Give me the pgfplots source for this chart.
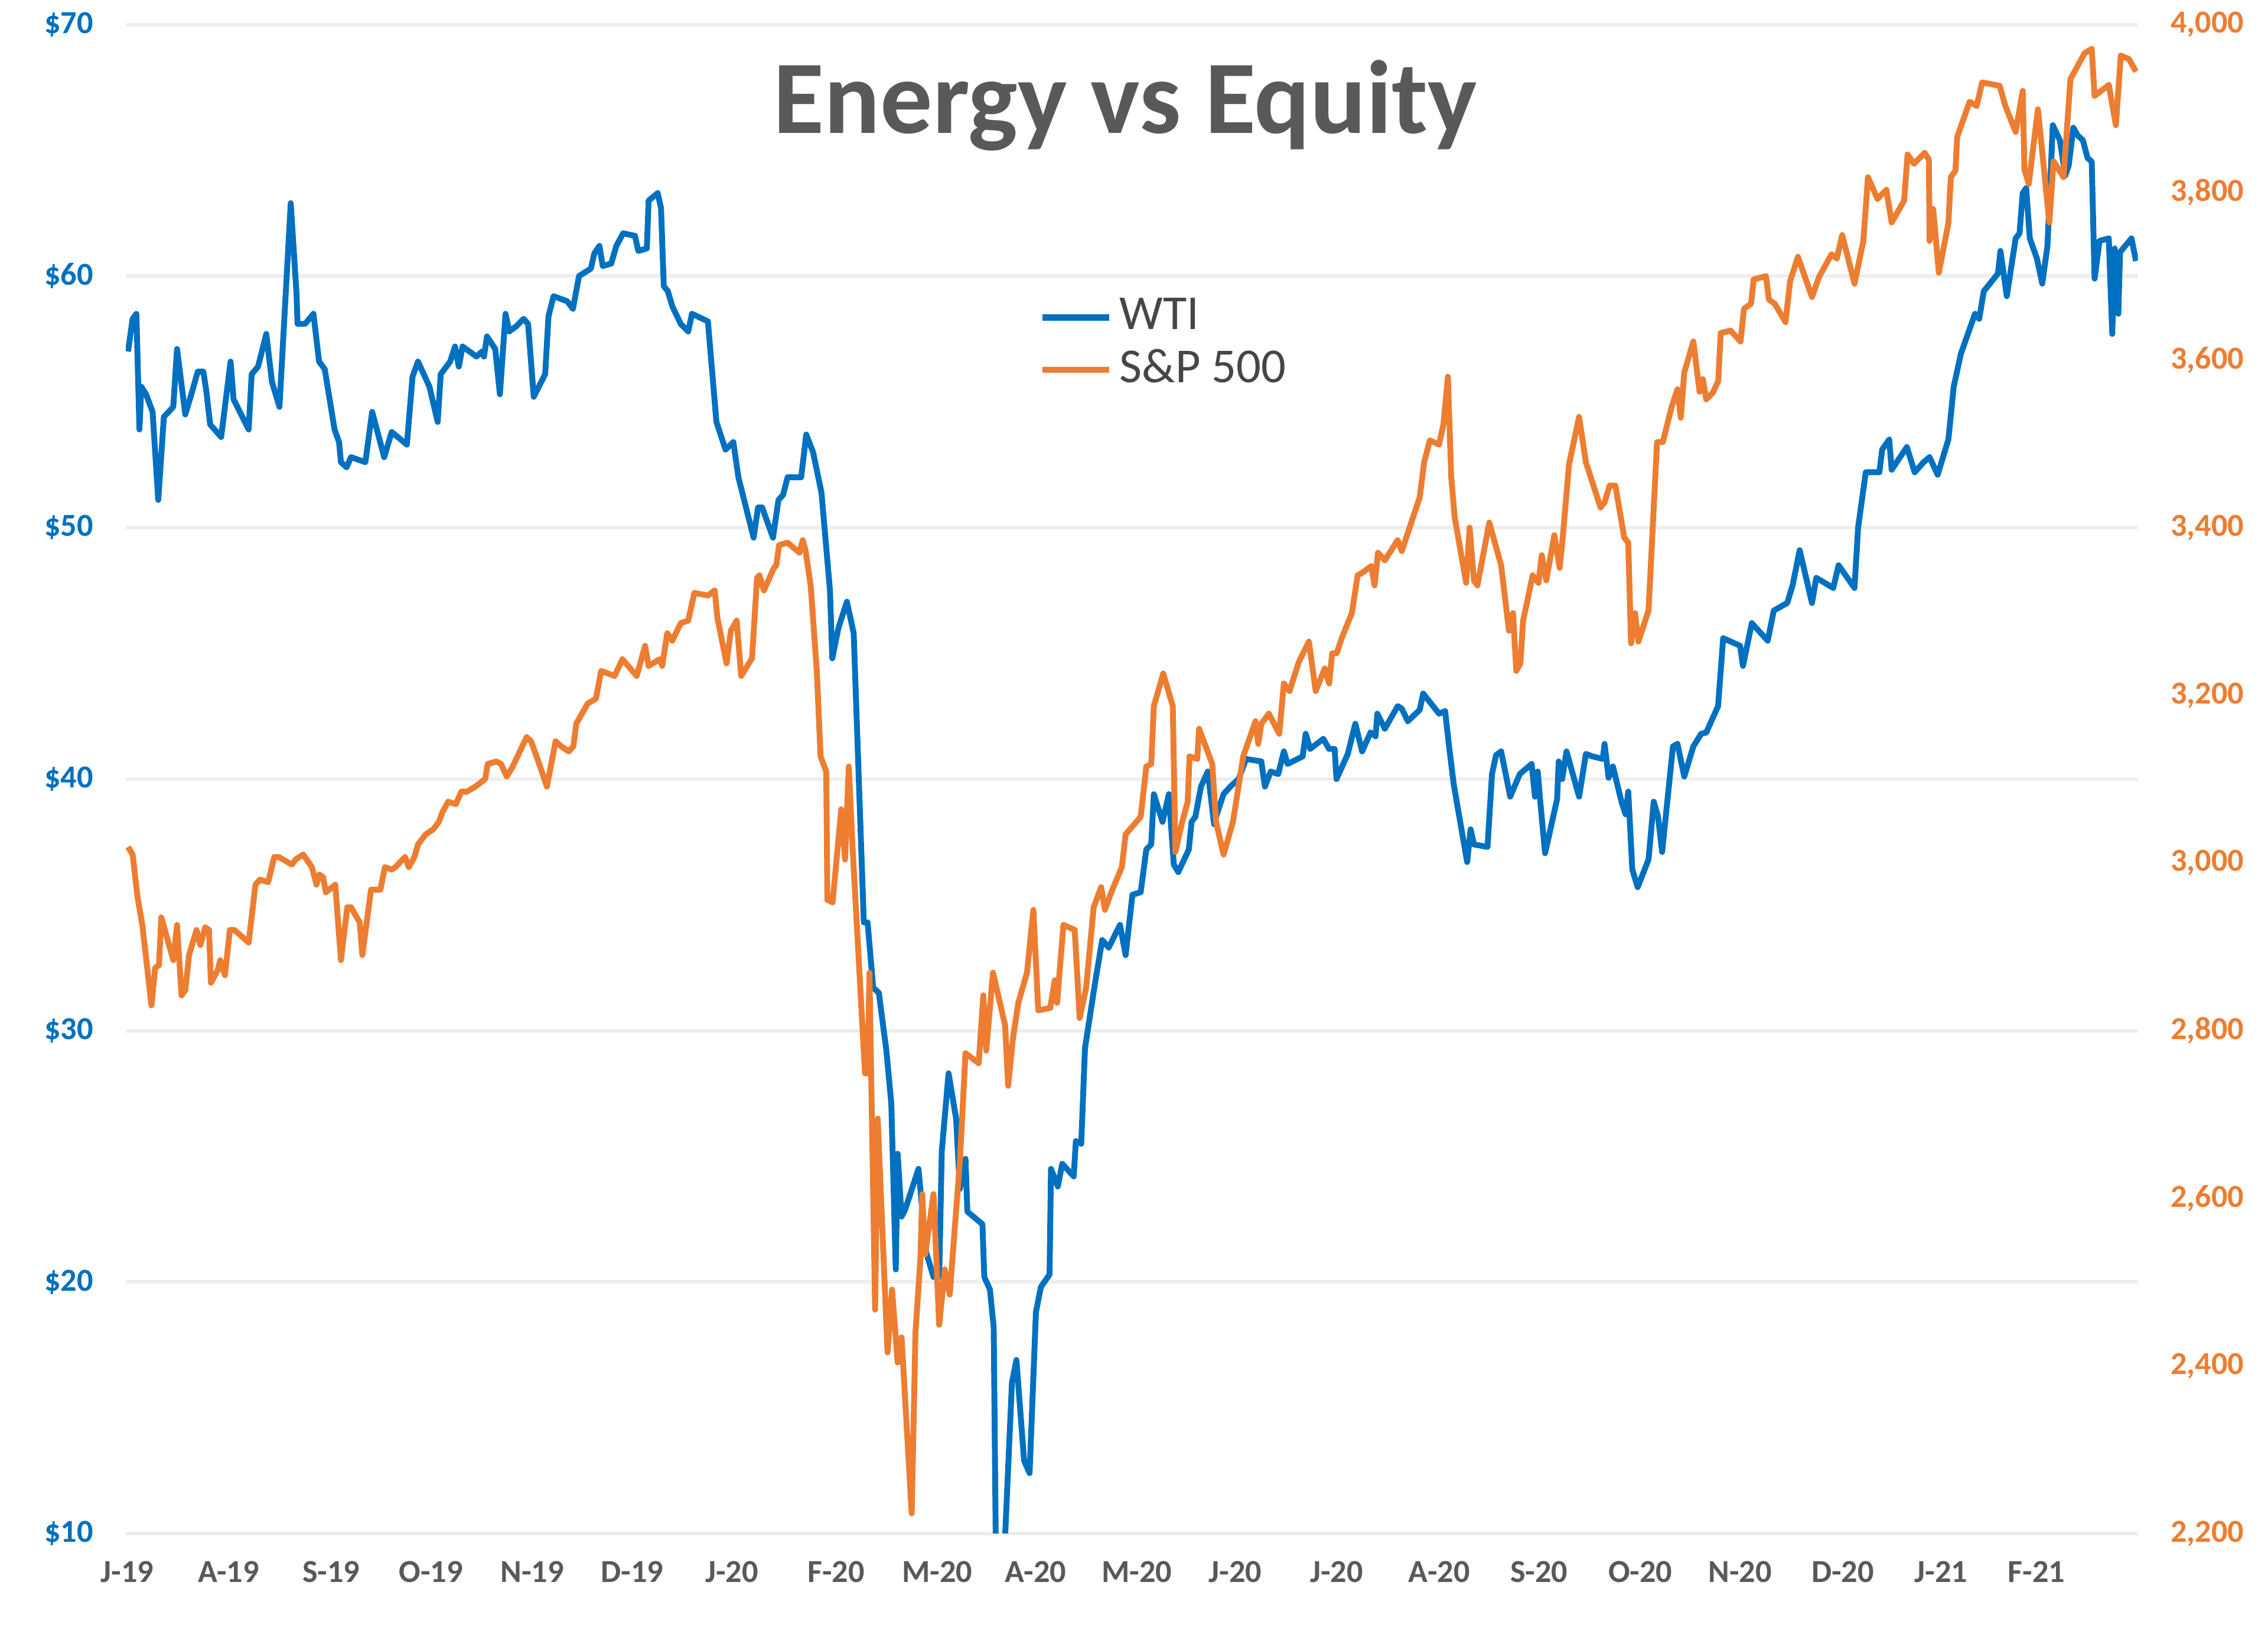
\documentclass[border=0pt]{standalone}
\usepackage{pgfplots}
\pgfplotsset{compat=1.18}
\usepackage{pgfplotstable}
\usepackage{fontspec}
\setmainfont{Carlito}
\definecolor{wti}{HTML}{0070C0}
\definecolor{spx}{HTML}{ED7D31}
\definecolor{txt}{HTML}{595959}
\definecolor{leg}{HTML}{464646}
\definecolor{grd}{HTML}{EEEEEE}

\pgfplotstableread{
x y
88.5 57.0
91.7 58.3
94.3 58.5
96.4 53.9
97.7 55.6
101 55.3
105.5 54.6
109.4 51.1
113.3 54.4
119.8 54.8
122.4 57.1
128.1 54.5
132.8 55.4
136.7 56.2
140.6 56.2
142.7 55.4
145.3 54.1
152.9 53.6
159.4 56.6
161.5 55.1
171.9 53.9
174 56.1
178.4 56.4
184.1 57.7
188 55.8
193.2 54.8
201 62.9
205 59.3
205.7 58.1
210.9 58.1
216.7 58.5
220.6 56.6
224.5 56.3
231.3 53.9
234.4 53.4
235.7 52.6
239.6 52.4
242.7 52.8
252.6 52.6
257.3 54.6
265.6 52.8
270.8 53.8
281.3 53.3
285.2 56.0
289 56.6
296.9 55.6
302.6 54.2
304.7 56.1
311.2 56.6
314.6 57.2
317.2 56.4
319.8 57.2
329.4 56.8
333.3 57.0
334.6 56.8
336.7 57.6
342.4 57.1
345.6 55.3
349.5 58.5
352.1 57.8
356.8 58.0
362 58.3
365.1 58.1
369 55.2
376.9 56.1
379.2 58.4
382.7 59.2
392.1 59.0
396.1 58.7
400.3 60.0
408.5 60.3
410.9 60.9
414.4 61.2
416.7 60.4
422.6 60.5
426.1 61.2
430.8 61.7
439 61.6
441.3 61.0
447.2 61.1
448.4 63.0
454.7 63.3
457 62.7
458.9 59.6
461.7 59.4
464.8 58.8
470.6 58.1
475.8 57.8
478.4 58.5
489.4 58.2
495.3 54.2
501.6 53.1
507 53.4
510.5 52.0
521 49.6
524.1 50.8
526.9 50.8
534.4 49.6
538.2 51.1
541.4 51.3
544.5 52.0
553.9 52.0
557.4 53.7
562.1 53.0
567.9 51.4
573.8 47.5
575.4 44.8
579.6 46.0
585.5 47.05
590.2 45.8
597.2 34.3
599.8 34.3
603.7 31.7
607.6 31.5
612.8 29.2
616.2 27.1
619.3 20.5
620.6 25.1
623.3 22.6
625.9 22.9
635 24.5
636.3 23.7
640.2 21.2
645.4 20.2
649.3 20.2
651.1 25.2
655.8 28.3
661 26.5
663.6 23.7
667.5 24.9
668.8 22.8
679.2 22.3
680.5 20.2
684.4 19.7
687 18.2
688.4 9.8
691 -10
694.9 9.9
699.6 16.0
702.7 16.9
708 12.9
711.8 12.4
716.2 18.8
719.6 19.8
725.6 20.3
726.6 24.5
731.3 23.8
734.4 24.7
742.3 24.2
743.8 25.6
747.5 25.5
750.1 29.3
756.8 31.8
762 33.6
766.5 33.3
774.3 34.2
778.2 33.0
782.9 35.4
788.6 35.5
792.5 37.2
795.9 37.4
797.7 39.4
803.7 38.3
808.1 39.4
811.5 36.6
814.6 36.3
821.9 37.2
823.8 38.3
826.4 38.5
830.3 39.7
835 40.3
839.4 38.2
840.7 38.5
845.9 39.4
850.6 39.7
856.3 40.0
861.5 40.8
872 40.7
874.5 39.7
878.5 40.3
883.7 40.2
887.6 41.1
890.2 40.6
900.6 40.9
902.7 41.8
905.8 41.2
914.9 41.6
918.8 41.2
922.7 41.2
924 40.0
931.8 41.0
937 42.2
941.7 41.1
947.5 41.85
951 41.7
952.2 42.6
957.4 42.0
966.3 42.9
969.1 42.8
973.3 42.3
981.5 42.75
983.9 43.4
994.9 42.6
999.1 42.7
1001.4 41.5
1005 39.8
1014.3 36.7
1016.7 38.0
1019 37.4
1028.4 37.3
1031.5 40.2
1034.3 40.95
1037.8 41.1
1044.1 39.3
1050.7 40.2
1058.9 40.6
1061.2 39.3
1063.1 40.3
1064.7 39.2
1068.2 37.05
1076.5 39.2
1077.6 40.7
1080 40.0
1083 41.1
1091.7 39.3
1096.4 41.0
1101 40.9
1108.1 40.8
1109.3 41.4
1112.1 40.05
1115.1 40.5
1121 39.1
1123.8 38.6
1125.7 39.5
1128.5 36.4
1132.2 35.7
1139.7 36.8
1143.3 39.1
1146.3 38.5
1149.1 37.1
1156.6 41.3
1159.7 41.4
1164.4 40.1
1170.7 41.3
1176.1 41.8
1179.6 41.85
1187.8 42.9
1191.3 45.6
1203 45.3
1205 44.5
1211.1 46.2
1222.1 45.5
1226.3 46.7
1235.6 47.0
1239.3 47.7
1244.2 49.1
1252.7 47.0
1255.7 48.0
1267.4 47.6
1271.1 48.5
1282.1 47.6
1284.6 50.0
1289.9 52.2
1299.3 52.2
1301.2 53.1
1306.1 53.5
1307.8 52.3
1318.3 53.2
1323.7 52.2
1329.9 52.6
1334 52.8
1339.6 52.1
1347 53.5
1350.7 55.6
1355.6 56.9
1365.4 58.5
1368.3 58.3
1371.5 59.4
1381.3 60.1
1383 61.0
1387.4 59.2
1393.5 61.5
1396.2 61.7
1398.4 63.3
1400.8 63.5
1403.3 61.5
1408.2 60.7
1411.9 59.7
1415.5 61.2
1419.2 66.0
1424.1 65.4
1427.8 64.0
1430.2 64.4
1433.4 65.9
1436.3 65.6
1440 65.4
1443.2 64.7
1446.1 64.55
1448.1 59.9
1451.5 61.4
1457.9 61.5
1460.3 57.7
1462 61.1
1464.5 58.5
1465.7 60.95
1473.6 61.5
1476.7 60.6
}\wtitable

\pgfplotstableread{
x y
88.5 3019
91.7 3010
95.1 2959
98.4 2926
104.7 2830
107.3 2875
109.9 2878
111.5 2935
119.8 2884
122.4 2926
125.5 2842
128.1 2848
130.7 2890
135.9 2920
138.5 2902
141.9 2923
144.5 2920
145.8 2857
150.5 2872
152.3 2884
155.5 2866
158.9 2920
162 2920
171.9 2905
176.6 2974
179.7 2980
185.4 2977
189.6 3007
192.7 3007
201.8 2998
204.4 3004
209.6 3010
215.6 2995
218.8 2974
220.8 2986
223.4 2983
225.3 2965
231.8 2974
235.7 2884
240.1 2947
242.7 2947
248.7 2929
250.5 2890
256.5 2968
263 2968
266.1 2995
270.8 2992
273.4 2995
280 3007
282.6 2995
286.5 3007
289 3022
294.3 3034
299.5 3040
303.4 3049
306 3061
309.9 3073
315.1 3070
319 3085
322.9 3085
328.6 3091
335.4 3100
337.2 3118
343.2 3121
346.4 3118
350.3 3103
354.2 3114
359.4 3133
364.1 3150
367.2 3145
373.4 3115
378.1 3091
384.1 3145
388 3139
393.2 3133
396.4 3139
398.4 3166
406.3 3190
412 3196
415.6 3229
424.9 3223
430.3 3243
440.2 3223
446 3259
448.4 3235
456.1 3243
457.8 3235
461.3 3274
464.8 3265
470.6 3286
475.8 3289
480 3322
489.4 3319
494.1 3325
496 3292
502.3 3238
505.3 3277
509.3 3289
512.4 3223
519.9 3244
523.4 3340
525 3343
528.1 3325
535.1 3352
536.7 3355
538.6 3379
544.5 3382
552.7 3370
555 3385
556.9 3373
560.5 3330
564.7 3229
567.3 3127
571.2 3109
572 2956
575.6 2953
581.6 3064
584.2 3004
586.8 3115
589.4 3019
598 2749
599.8 2749
601.1 2869
605 2467
606.8 2695
613.6 2416
616.7 2491
620.6 2404
623.3 2434
630.3 2224
632.9 2440
636.3 2527
637.6 2605
639.6 2533
645.4 2605
649.3 2449
653.2 2515
656.6 2485
663.6 2644
667.5 2773
676.6 2761
679.8 2842
681.8 2776
686.5 2869
694.9 2806
697 2734
700.1 2788
704 2833
710 2869
714.4 2944
717.8 2824
726.1 2827
729.2 2860
730.8 2833
735.2 2926
743 2920
746.4 2815
750.9 2851
756.1 2947
761.3 2971
763.9 2944
768.3 2965
775.6 2995
778.2 3034
788.6 3055
792.5 3115
795.9 3118
797.7 3187
804.2 3226
810.8 3187
812.6 3013
817.3 3049
821.1 3073
822.4 3127
827.7 3124
829 3160
838.1 3118
840.7 3049
845.9 3010
852.4 3049
859.5 3127
868 3169
869.9 3142
872 3166
877.2 3178
884.4 3154
887.6 3214
891.5 3205
898 3240
904.9 3264
909.6 3205
915.9 3232
918.9 3214
921 3250
924.1 3250
927.6 3268
934.6 3298
938.6 3343
941.7 3346
948 3354
950.3 3331
952.7 3370
957.4 3361
966.3 3385
969.1 3372
981.5 3436
984.6 3478
988.5 3504
994.9 3499
997.9 3523
1001 3580
1003.3 3460
1005.7 3412
1013.6 3334
1016 3400
1019 3337
1021.4 3331
1029.6 3406
1037.8 3355
1043.2 3277
1046 3298
1048.3 3229
1051.1 3238
1053 3289
1059.6 3343
1063.6 3334
1065.9 3367
1069 3337
1074.6 3391
1078.3 3352
1080.7 3394
1084.7 3475
1091.7 3532
1096.4 3478
1106.5 3424
1109.3 3430
1112.8 3450
1116.8 3450
1122.9 3388
1125.7 3382
1127.6 3262
1130.4 3298
1132.7 3264
1139.7 3301
1145.6 3502
1149.6 3502
1155.7 3544
1159.7 3565
1162 3531
1164.4 3585
1170.7 3622
1175 3562
1177.3 3577
1179.6 3553
1184.2 3561
1187.9 3575
1189.6 3632
1196.4 3635
1203.3 3622
1205.7 3661
1210.6 3667
1212.4 3696
1220.9 3700
1222.9 3672
1227 3667
1234.4 3645
1237.6 3694
1243 3723
1252.7 3675
1257.6 3699
1266.2 3726
1269.9 3721
1273.6 3749
1282.1 3691
1288.2 3742
1291.4 3818
1298 3792
1304.1 3803
1307.8 3764
1316.4 3790
1318.8 3845
1323.2 3834
1330.6 3847
1333.5 3839
1334 3742
1336.5 3780
1340.4 3704
1347 3763
1348.7 3818
1351.9 3826
1353.1 3866
1361.7 3908
1366.6 3903
1370.3 3931
1382.5 3927
1386.2 3904
1393.5 3872
1398.4 3921
1399.6 3827
1402.6 3810
1408.9 3899
1416.8 3764
1419.7 3837
1426.6 3818
1431.4 3935
1441.2 3966
1446.1 3971
1448.1 3915
1457.9 3928
1462.8 3880
1466.2 3963
1471.8 3959
1476.7 3944
}\spxtable

\begin{document}
\begin{tikzpicture}
\path[use as bounding box] (0,0) rectangle (15.68,11.36);
\pgfplotsset{
  common/.style={
    at={(0.87cm,0.76cm)}, anchor=south west, scale only axis,
    width=13.91cm, height=10.43cm,
    xmin=87, xmax=1478,
    axis line style={draw=none}, major tick length=0pt,
  }
}
\begin{axis}[common,
  ymin=10, ymax=70,
  ytick={10,20,30,40,50,60,70},
  yticklabels={\$10,\$20,\$30,\$40,\$50,\$60,\$70},
  yticklabel style={font=\fontsize{6.3}{7}\selectfont\bfseries, text=wti, xshift=-2.9pt},
  ymajorgrids, grid style={grd, line width=0.7pt},
  xtick={88,158,229,298,368,437,506,578,648,716,786,854,924,995,1064,1134,1203,1274,1342,1408},
  xticklabels={J-19,A-19,S-19,O-19,N-19,D-19,J-20,F-20,M-20,A-20,M-20,J-20,J-20,A-20,S-20,O-20,N-20,D-20,J-21,F-21},
  xticklabel style={font=\fontsize{6.3}{7}\selectfont\bfseries, text=txt, yshift=-1.9pt},
]
\addplot[wti, line width=1.15pt, line join=round] table[x=x,y=y]{\wtitable};
\end{axis}
\begin{axis}[common,
  ymin=2200, ymax=4000,
  axis y line*=right, hide x axis,
  ytick={2200,2400,2600,2800,3000,3200,3400,3600,3800,4000},
  yticklabels={{2,200},{2,400},{2,600},{2,800},{3,000},{3,200},{3,400},{3,600},{3,800},{4,000}},
  yticklabel style={font=\fontsize{6.3}{7}\selectfont\bfseries, text=spx, xshift=2.9pt},
  legend style={at={(0.4536,0.8245)}, anchor=north west, draw=none, fill=none,
    font=\fontsize{9.6}{11}\selectfont, text=leg, row sep=-0.6pt, inner sep=0pt,
    nodes={inner sep=1.5pt}},
  legend cell align=left,
  legend image code/.code={\draw[#1, line width=1.2pt] (0cm,0cm) -- (0.46cm,0cm);},
  legend style={/tikz/every even column/.append style={column sep=-2pt}},
]
\addlegendimage{wti}
\addlegendentry{WTI}
\addplot[spx, line width=1.15pt, line join=round] table[x=x,y=y]{\spxtable};
\addlegendentry{S\&P 500}
\end{axis}
\node[font=\fontsize{20.5}{24}\selectfont\bfseries, text=txt, anchor=base] at (7.78,10.44) {Energy vs Equity};
\end{tikzpicture}
\end{document}
